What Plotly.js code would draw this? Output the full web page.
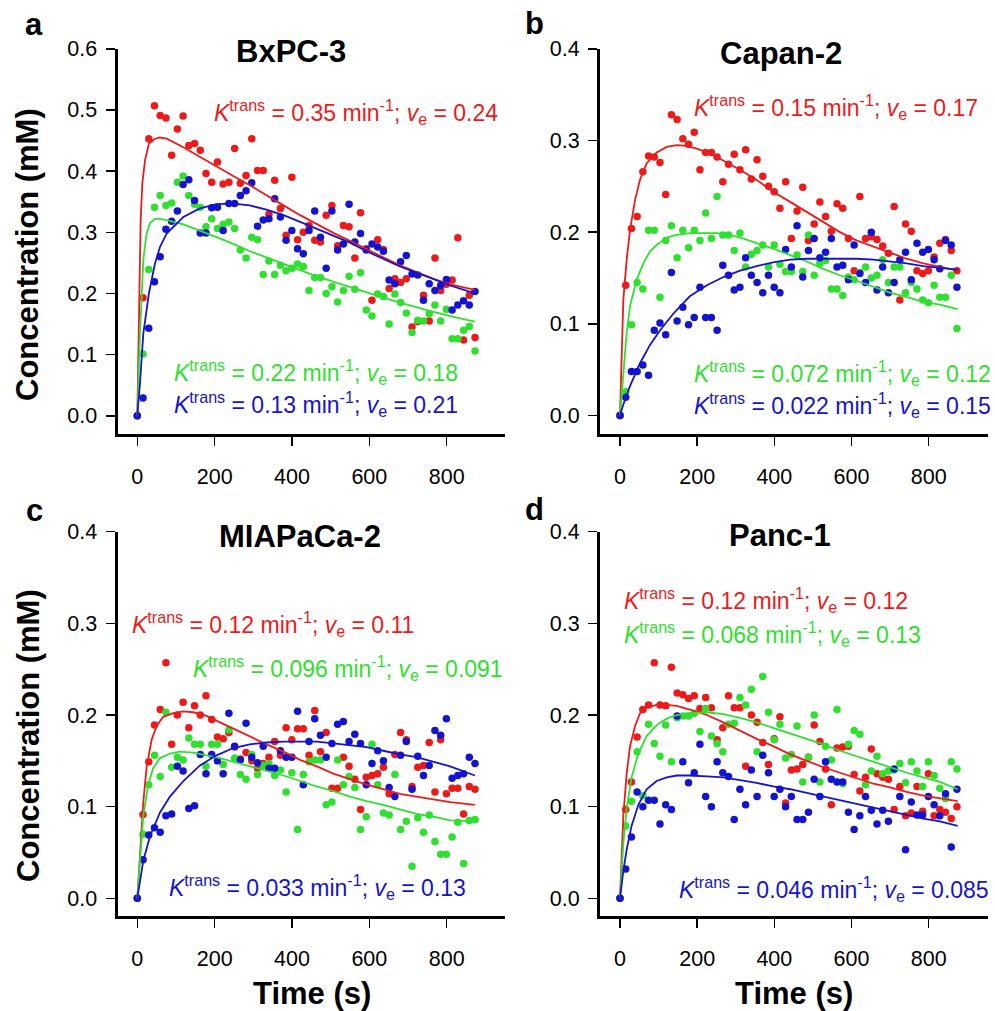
<!DOCTYPE html>
<html>
<head>
<meta charset="utf-8">
<script src="https://cdn.plot.ly/plotly-3.0.1.min.js"></script>
<style>html,body{margin:0;padding:0;background:#fff;}#chart{width:995px;height:1011px;}</style>
</head>
<body>
<div id="chart"></div>
<script>
// ---------- data ----------
const TIME = [0, 14.8, 29.6, 44.4, 59.2, 74, 88.8, 103.6, 118.4, 133.2, 148, 162.8, 177.6, 192.4, 207.2, 222, 236.8, 251.6, 266.4, 281.2, 296, 310.8, 325.6, 340.4, 355.2, 370, 384.8, 399.6, 414.4, 429.2, 444, 458.8, 473.6, 488.4, 503.2, 518, 532.8, 547.6, 562.4, 577.2, 592, 606.8, 621.6, 636.4, 651.2, 666, 680.8, 695.6, 710.4, 725.2, 740, 754.8, 769.6, 784.4, 799.2, 814, 828.8, 843.6, 858.4, 873.2];

const PANEL_LETTERS = ["a", "b", "c", "d"];
const CELL_LINES = ["BxPC-3", "Capan-2", "MIAPaCa-2", "Panc-1"];
const KTRANS = {a: ["0.35", "0.22", "0.13"], b: ["0.15", "0.072", "0.022"], c: ["0.12", "0.096", "0.033"], d: ["0.12", "0.068", "0.046"]}; // red, green, blue
const VE = {a: ["0.24", "0.18", "0.21"], b: ["0.17", "0.12", "0.15"], c: ["0.11", "0.091", "0.13"], d: ["0.12", "0.13", "0.085"]};
const X_TICKS = [0, 200, 400, 600, 800];
const Y_TICKS_A = [0, 0.1, 0.2, 0.3, 0.4, 0.5, 0.6];
const Y_TICKS_BCD = [0, 0.1, 0.2, 0.3, 0.4];

// Panel a: BxPC-3
const A_RED = [0, 0.193, 0.453, 0.507, 0.491, 0.487, 0.426, 0.469, 0.490, 0.442, 0.445, 0.434, 0.396, 0.382, 0.415, 0.379, 0.382, 0.437, 0.380, 0.393, 0.453, 0.401, 0.401, 0.330, 0.385, 0.339, 0.295, 0.390, 0.288, 0.300, 0.311, 0.287, 0.284, 0.328, 0.344, 0.278, 0.311, 0.309, 0.258, 0.332, 0.273, 0.189, 0.288, 0.272, 0.208, 0.224, 0.218, 0.224, 0.145, 0.154, 0.197, 0.155, 0.258, 0.205, 0.215, 0.222, 0.291, 0.124, 0.197, 0.128];
const A_GREEN = [0, 0.101, 0.239, 0.341, 0.360, 0.344, 0.348, 0.382, 0.392, 0.360, 0.346, 0.341, 0.309, 0.322, 0.306, 0.313, 0.317, 0.306, 0.271, 0.258, 0.292, 0.288, 0.231, 0.253, 0.231, 0.246, 0.237, 0.241, 0.248, 0.244, 0.205, 0.226, 0.226, 0.200, 0.211, 0.186, 0.205, 0.228, 0.207, 0.234, 0.173, 0.163, 0.199, 0.195, 0.150, 0.199, 0.185, 0.168, 0.136, 0.156, 0.155, 0.167, 0.181, 0.155, 0.174, 0.126, 0.126, 0.140, 0.146, 0.106];
const A_BLUE = [0, 0.029, 0.143, 0.219, 0.260, 0.305, 0.318, 0.335, 0.378, 0.386, 0.352, 0.299, 0.299, 0.340, 0.341, 0.303, 0.347, 0.347, 0.360, 0.368, 0.381, 0.310, 0.320, 0.322, 0.355, 0.325, 0.287, 0.303, 0.273, 0.265, 0.303, 0.335, 0.292, 0.241, 0.335, 0.271, 0.281, 0.346, 0.284, 0.298, 0.271, 0.281, 0.276, 0.269, 0.222, 0.216, 0.252, 0.262, 0.232, 0.230, 0.189, 0.216, 0.205, 0.213, 0.223, 0.173, 0.181, 0.188, 0.181, 0.203];
const A_FIT_RED_T = [0, 4.3, 8.6, 13, 20, 30, 45.7, 58.6, 76, 119, 162, 205, 248, 291, 334, 378, 421, 464, 507, 550, 593, 636, 679, 722, 766, 809, 873];
const A_FIT_RED = [0, 0.20, 0.32, 0.38, 0.418, 0.445, 0.453, 0.455, 0.453, 0.439, 0.423, 0.407, 0.392, 0.377, 0.360, 0.344, 0.328, 0.313, 0.299, 0.286, 0.272, 0.259, 0.246, 0.235, 0.224, 0.215, 0.206];
const A_FIT_GREEN_T = [0, 6.9, 15.5, 24, 33, 45.7, 58.6, 76, 119, 162, 205, 248, 291, 334, 378, 421, 464, 507, 550, 593, 636, 679, 722, 766, 809, 873];
const A_FIT_GREEN = [0, 0.134, 0.254, 0.298, 0.315, 0.322, 0.322, 0.320, 0.313, 0.303, 0.292, 0.281, 0.269, 0.259, 0.249, 0.238, 0.228, 0.219, 0.210, 0.201, 0.193, 0.185, 0.177, 0.170, 0.163, 0.154];
const A_FIT_BLUE_T = [0, 6.9, 15.5, 30, 45.7, 58.6, 76, 119, 162, 205, 248, 291, 334, 378, 421, 464, 507, 550, 593, 636, 679, 722, 766, 809, 873];
const A_FIT_BLUE = [0, 0.053, 0.134, 0.200, 0.249, 0.276, 0.298, 0.325, 0.339, 0.346, 0.347, 0.344, 0.337, 0.328, 0.317, 0.306, 0.295, 0.283, 0.269, 0.257, 0.244, 0.234, 0.223, 0.213, 0.200];

// Panel b: Capan-2
const B_RED = [0, 0.142, 0.204, 0.217, 0.266, 0.283, 0.282, 0.276, 0.241, 0.328, 0.323, 0.302, 0.296, 0.309, 0.268, 0.287, 0.287, 0.282, 0.255, 0.274, 0.285, 0.268, 0.290, 0.258, 0.279, 0.261, 0.250, 0.244, 0.226, 0.255, 0.193, 0.223, 0.249, 0.191, 0.209, 0.233, 0.217, 0.201, 0.231, 0.226, 0.193, 0.158, 0.239, 0.193, 0.195, 0.192, 0.185, 0.177, 0.228, 0.126, 0.209, 0.201, 0.158, 0.155, 0.158, 0.173, 0.188, 0.192, 0.180, 0.158];
const B_GREEN = [0, 0.026, 0.099, 0.145, 0.138, 0.202, 0.202, 0.129, 0.191, 0.207, 0.172, 0.202, 0.183, 0.202, 0.191, 0.221, 0.193, 0.239, 0.197, 0.197, 0.180, 0.199, 0.162, 0.176, 0.180, 0.186, 0.162, 0.186, 0.165, 0.157, 0.157, 0.175, 0.157, 0.197, 0.153, 0.166, 0.169, 0.138, 0.138, 0.131, 0.151, 0.148, 0.156, 0.162, 0.150, 0.153, 0.170, 0.145, 0.162, 0.162, 0.134, 0.145, 0.138, 0.126, 0.123, 0.142, 0.129, 0.129, 0.153, 0.095];
const B_BLUE = [0, 0.020, 0.048, 0.048, 0.055, 0.044, 0.093, 0.101, 0.088, 0.156, 0.103, 0.118, 0.099, 0.107, 0.140, 0.107, 0.107, 0.093, 0.164, 0.153, 0.137, 0.140, 0.172, 0.153, 0.145, 0.134, 0.153, 0.140, 0.134, 0.181, 0.162, 0.207, 0.151, 0.180, 0.193, 0.172, 0.178, 0.193, 0.162, 0.164, 0.148, 0.186, 0.155, 0.145, 0.200, 0.137, 0.162, 0.134, 0.145, 0.170, 0.178, 0.148, 0.188, 0.178, 0.181, 0.170, 0.160, 0.191, 0.186, 0.140];
const B_FIT_RED_T = [0, 8.6, 17.3, 25.9, 38.9, 51.8, 69, 95, 121, 147, 173, 199, 233, 268, 311, 354, 397, 441, 484, 527, 570, 613, 657, 700, 743, 786, 829, 875];
const B_FIT_RED = [0, 0.126, 0.170, 0.202, 0.235, 0.257, 0.275, 0.287, 0.293, 0.295, 0.294, 0.291, 0.286, 0.278, 0.268, 0.257, 0.244, 0.233, 0.222, 0.211, 0.200, 0.191, 0.184, 0.178, 0.171, 0.166, 0.162, 0.158];
const B_FIT_GREEN_T = [0, 8.6, 17.3, 25.9, 43.2, 60.5, 77.8, 95, 121, 147, 181, 216, 251, 285, 320, 354, 397, 441, 484, 527, 570, 613, 657, 700, 743, 786, 829, 875];
const B_FIT_GREEN = [0, 0.046, 0.090, 0.119, 0.148, 0.166, 0.179, 0.186, 0.194, 0.197, 0.199, 0.199, 0.199, 0.197, 0.193, 0.188, 0.182, 0.175, 0.168, 0.160, 0.153, 0.147, 0.140, 0.134, 0.129, 0.124, 0.121, 0.116];
const B_FIT_BLUE_T = [0, 8.6, 25.9, 51.8, 77.8, 104, 138, 181, 225, 268, 311, 354, 397, 441, 484, 527, 570, 613, 657, 700, 743, 786, 829, 875];
const B_FIT_BLUE = [0, 0.012, 0.032, 0.057, 0.077, 0.093, 0.111, 0.130, 0.142, 0.151, 0.158, 0.163, 0.167, 0.170, 0.171, 0.171, 0.171, 0.171, 0.170, 0.168, 0.166, 0.163, 0.161, 0.159];

// Panel c: MIAPaCa-2
const C_RED = [0, 0.0915, 0.149, 0.189, 0.206, 0.257, 0.168, 0.200, 0.214, 0.186, 0.210, 0.200, 0.221, 0.195, 0.176, 0.174, 0.181, 0.165, 0.152, 0.159, 0.150, 0.142, 0.147, 0.154, 0.171, 0.156, 0.186, 0.173, 0.185, 0.185, 0.156, 0.205, 0.160, 0.181, 0.120, 0.120, 0.154, 0.144, 0.130, 0.097, 0.132, 0.134, 0.136, 0.143, 0.114, 0.157, 0.181, 0.173, 0.122, 0.143, 0.145, 0.170, 0.116, 0.173, 0.114, 0.120, 0.120, 0.092, 0.122, 0.119];
const C_GREEN = [0, 0.070, 0.124, 0.156, 0.133, 0.203, 0.143, 0.154, 0.151, 0.175, 0.168, 0.168, 0.144, 0.168, 0.168, 0.146, 0.184, 0.153, 0.135, 0.130, 0.157, 0.135, 0.145, 0.147, 0.134, 0.140, 0.116, 0.137, 0.075, 0.135, 0.149, 0.151, 0.151, 0.102, 0.105, 0.151, 0.124, 0.133, 0.121, 0.075, 0.089, 0.168, 0.124, 0.093, 0.091, 0.135, 0.075, 0.084, 0.035, 0.088, 0.072, 0.091, 0.062, 0.048, 0.048, 0.067, 0.083, 0.038, 0.085, 0.086];
const C_BLUE = [0, 0.042, 0.069, 0.077, 0.072, 0.090, 0.092, 0.144, 0.139, 0.098, 0.101, 0.157, 0.136, 0.157, 0.150, 0.136, 0.202, 0.166, 0.151, 0.191, 0.154, 0.148, 0.166, 0.142, 0.142, 0.161, 0.154, 0.154, 0.204, 0.124, 0.171, 0.196, 0.178, 0.154, 0.169, 0.190, 0.193, 0.171, 0.179, 0.169, 0.124, 0.147, 0.161, 0.150, 0.121, 0.111, 0.156, 0.171, 0.119, 0.155, 0.134, 0.145, 0.183, 0.178, 0.196, 0.131, 0.134, 0.136, 0.154, 0.147];
const C_FIT_RED_T = [0, 6.9, 15.5, 24, 37, 50, 67, 93, 119, 145, 179, 214, 248, 291, 334, 378, 421, 464, 507, 550, 593, 636, 679, 722, 766, 809, 873];
const C_FIT_RED = [0, 0.053, 0.105, 0.143, 0.173, 0.188, 0.198, 0.202, 0.204, 0.203, 0.199, 0.192, 0.185, 0.176, 0.168, 0.160, 0.151, 0.144, 0.136, 0.130, 0.124, 0.119, 0.114, 0.111, 0.108, 0.105, 0.102];
const C_FIT_GREEN_T = [0, 6.9, 15.5, 28, 41, 59, 84.5, 110, 145, 179, 214, 248, 291, 334, 378, 421, 464, 507, 550, 593, 636, 679, 722, 766, 809, 873];
const C_FIT_GREEN = [0, 0.045, 0.090, 0.124, 0.142, 0.153, 0.158, 0.160, 0.159, 0.156, 0.153, 0.149, 0.144, 0.139, 0.134, 0.128, 0.122, 0.117, 0.111, 0.106, 0.102, 0.097, 0.092, 0.089, 0.085, 0.084];
const C_FIT_BLUE_T = [0, 6.9, 15.5, 33, 59, 84.5, 119, 162, 205, 248, 291, 334, 378, 421, 464, 507, 550, 593, 636, 679, 722, 766, 809, 873];
const C_FIT_BLUE = [0, 0.019, 0.041, 0.068, 0.094, 0.111, 0.128, 0.145, 0.156, 0.164, 0.168, 0.170, 0.171, 0.171, 0.171, 0.169, 0.167, 0.165, 0.161, 0.157, 0.154, 0.149, 0.144, 0.134];

// Panel d: Panc-1
const D_RED = [0, 0.097, 0.127, 0.176, 0.206, 0.211, 0.257, 0.211, 0.210, 0.252, 0.224, 0.222, 0.218, 0.221, 0.207, 0.219, 0.208, 0.173, 0.186, 0.221, 0.208, 0.208, 0.144, 0.200, 0.192, 0.170, 0.146, 0.174, 0.198, 0.104, 0.140, 0.141, 0.146, 0.154, 0.189, 0.171, 0.141, 0.102, 0.164, 0.165, 0.166, 0.135, 0.117, 0.132, 0.163, 0.136, 0.132, 0.130, 0.097, 0.122, 0.090, 0.093, 0.122, 0.095, 0.136, 0.090, 0.097, 0.094, 0.087, 0.100];
const D_GREEN = [0, 0.079, 0.106, 0.160, 0.112, 0.190, 0.169, 0.155, 0.189, 0.149, 0.197, 0.199, 0.199, 0.202, 0.182, 0.207, 0.177, 0.169, 0.160, 0.190, 0.191, 0.219, 0.211, 0.228, 0.160, 0.242, 0.203, 0.173, 0.190, 0.153, 0.157, 0.188, 0.127, 0.154, 0.200, 0.127, 0.166, 0.151, 0.206, 0.125, 0.168, 0.183, 0.179, 0.124, 0.139, 0.155, 0.136, 0.139, 0.140, 0.147, 0.126, 0.149, 0.139, 0.122, 0.149, 0.134, 0.120, 0.109, 0.149, 0.141];
const D_BLUE = [0, 0.032, 0.067, 0.116, 0.100, 0.107, 0.107, 0.081, 0.102, 0.097, 0.199, 0.149, 0.126, 0.137, 0.168, 0.111, 0.100, 0.149, 0.137, 0.133, 0.086, 0.119, 0.102, 0.140, 0.111, 0.156, 0.137, 0.111, 0.119, 0.100, 0.111, 0.086, 0.086, 0.094, 0.130, 0.111, 0.149, 0.130, 0.127, 0.127, 0.094, 0.075, 0.090, 0.111, 0.096, 0.081, 0.096, 0.084, 0.141, 0.111, 0.053, 0.105, 0.091, 0.091, 0.111, 0.102, 0.090, 0.114, 0.056, 0.119];
const D_FIT_RED_T = [0, 8.6, 17.3, 26, 39, 52, 69, 95, 121, 147, 181, 225, 268, 311, 354, 397, 441, 484, 527, 570, 613, 657, 700, 743, 786, 829, 875];
const D_FIT_RED = [0, 0.090, 0.136, 0.166, 0.188, 0.202, 0.208, 0.211, 0.211, 0.210, 0.206, 0.200, 0.192, 0.183, 0.174, 0.166, 0.157, 0.150, 0.143, 0.137, 0.131, 0.125, 0.121, 0.116, 0.112, 0.109, 0.106];
const D_FIT_GREEN_T = [0, 8.6, 17.3, 30, 47.5, 69, 95, 121, 147, 181, 225, 268, 311, 354, 397, 441, 484, 527, 570, 613, 657, 700, 743, 786, 829, 875];
const D_FIT_GREEN = [0, 0.060, 0.098, 0.132, 0.158, 0.177, 0.189, 0.196, 0.200, 0.202, 0.203, 0.201, 0.197, 0.192, 0.186, 0.180, 0.174, 0.168, 0.161, 0.155, 0.149, 0.143, 0.137, 0.132, 0.127, 0.119];
const D_FIT_BLUE_T = [0, 8.6, 17.3, 30, 47.5, 69, 95, 121, 147, 181, 225, 268, 311, 354, 397, 441, 484, 527, 570, 613, 657, 700, 743, 786, 829, 875];
const D_FIT_BLUE = [0, 0.030, 0.053, 0.079, 0.102, 0.119, 0.128, 0.132, 0.134, 0.134, 0.133, 0.132, 0.129, 0.126, 0.122, 0.119, 0.115, 0.111, 0.107, 0.103, 0.099, 0.095, 0.091, 0.087, 0.084, 0.079];

// ---------- styling ----------
const W = 995, H = 1011;
const RED = "#ee1a1a", GREEN = "#2fe02f", BLUE = "#1414d0";
const COLORS = [RED, GREEN, BLUE];
const FONT = "Arial, 'Liberation Sans', Helvetica, sans-serif";
const px = x => x / W;
const py = y => 1 - y / H;

const panels = [
  {key: "a", xa: "x",  ya: "y",  pts: [A_RED, A_GREEN, A_BLUE], fits: [[A_FIT_RED_T, A_FIT_RED], [A_FIT_GREEN_T, A_FIT_GREEN], [A_FIT_BLUE_T, A_FIT_BLUE]]},
  {key: "b", xa: "x2", ya: "y2", pts: [B_RED, B_GREEN, B_BLUE], fits: [[B_FIT_RED_T, B_FIT_RED], [B_FIT_GREEN_T, B_FIT_GREEN], [B_FIT_BLUE_T, B_FIT_BLUE]]},
  {key: "c", xa: "x3", ya: "y3", pts: [C_RED, C_GREEN, C_BLUE], fits: [[C_FIT_RED_T, C_FIT_RED], [C_FIT_GREEN_T, C_FIT_GREEN], [C_FIT_BLUE_T, C_FIT_BLUE]]},
  {key: "d", xa: "x4", ya: "y4", pts: [D_RED, D_GREEN, D_BLUE], fits: [[D_FIT_RED_T, D_FIT_RED], [D_FIT_GREEN_T, D_FIT_GREEN], [D_FIT_BLUE_T, D_FIT_BLUE]]}
];

const traces = [];
panels.forEach(p => {
  p.pts.forEach((vals, k) => {
    traces.push({type: "scatter", mode: "markers", x: TIME, y: vals, xaxis: p.xa, yaxis: p.ya,
      marker: {color: COLORS[k], size: 7.5, line: {width: 0}}, showlegend: false, hoverinfo: "skip", cliponaxis: false});
  });
  p.fits.forEach((f, k) => {
    traces.push({type: "scatter", mode: "lines", x: f[0], y: f[1], xaxis: p.xa, yaxis: p.ya,
      line: {color: COLORS[k], width: 1.8}, showlegend: false, hoverinfo: "skip"});
  });
});

function xAxis(domain, range, anchor) {
  return {domain: domain, range: range, anchor: anchor, showline: true, linewidth: 3, linecolor: "#000",
    ticks: "outside", ticklen: 9, tickwidth: 1.5, tickcolor: "#000", tickvals: X_TICKS,
    showgrid: false, zeroline: false, tickfont: {family: FONT, size: 21.5, color: "#000"}, ticklabelstandoff: 12, fixedrange: true};
}
function yAxis(domain, range, anchor, vals) {
  return {domain: domain, range: range, anchor: anchor, showline: true, linewidth: 3, linecolor: "#000",
    ticks: "outside", ticklen: 9, tickwidth: 1.5, tickcolor: "#000", tickvals: vals, tickformat: ".1f",
    showgrid: false, zeroline: false, tickfont: {family: FONT, size: 21.5, color: "#000"}, ticklabelstandoff: 4, fixedrange: true};
}

const XL = [px(117.5), px(505)], XR = [px(600), px(988)];
const YT = [py(434), py(48.8)], YB = [py(916), py(531.7)];

const annotations = [];
function txt(text, x, y, size, opts) {
  annotations.push(Object.assign({xref: "paper", yref: "paper", x: px(x), y: py(y), text: text, showarrow: false,
    xanchor: "center", yanchor: "middle", font: {family: FONT, size: size, color: "#000"}}, opts || {}));
}
const letterPos = [[34, 24], [534, 23], [34, 510], [534.5, 509]];
const titlePos = [[290.5, 52], [781, 54], [300, 536], [780, 535.6]];
PANEL_LETTERS.forEach((l, i) => {
  txt("<b>" + l + "</b>", letterPos[i][0], letterPos[i][1], 31);
  txt("<b>" + CELL_LINES[i] + "</b>", titlePos[i][0], titlePos[i][1], 31);
});
txt("<b>Concentration (mM)</b>", 28, 255, 31, {textangle: -90});
txt("<b>Concentration (mM)</b>", 28, 736, 31, {textangle: -90});
txt("<b>Time (s)</b>", 311.5, 993, 31);
txt("<b>Time (s)</b>", 794, 993, 31);

// model parameter labels: [left x, box-middle y] in pixels
const statPos = {
  a: [[211.7, 112], [171.7, 372], [171.7, 403.5]],
  b: [[691.7, 107], [691.7, 373.5], [691.7, 404.5]],
  c: [[130, 623.5], [190.7, 668], [166.7, 887]],
  d: [[621.7, 600], [621.7, 633.7], [677.3, 889]]
};
Object.keys(statPos).forEach(key => {
  statPos[key].forEach((pos, k) => {
    const t = "<i>K</i><sup>trans</sup> = " + KTRANS[key][k] + " min<sup>-1</sup>; <i>v</i><sub>e</sub> = " + VE[key][k];
    annotations.push({xref: "paper", yref: "paper", x: px(pos[0]), y: py(pos[1]), text: t, showarrow: false,
      xanchor: "left", yanchor: "middle", font: {family: FONT, size: 23, color: COLORS[k]}});
  });
});

const layout = {
  width: W, height: H, margin: {l: 0, r: 0, t: 0, b: 0}, paper_bgcolor: "#fff", plot_bgcolor: "#fff",
  showlegend: false,
  xaxis: xAxis(XL, [-51.2, 950.8], "y"),
  yaxis: yAxis(YT, [-0.0298, 0.6], "x", Y_TICKS_A),
  xaxis2: xAxis(XR, [-51.8, 953.7], "y2"),
  yaxis2: yAxis(YT, [-0.0202, 0.4], "x2", Y_TICKS_BCD),
  xaxis3: xAxis(XL, [-51.2, 950.8], "y3"),
  yaxis3: yAxis(YB, [-0.0193, 0.4], "x3", Y_TICKS_BCD),
  xaxis4: xAxis(XR, [-51.8, 953.7], "y4"),
  yaxis4: yAxis(YB, [-0.0193, 0.4], "x4", Y_TICKS_BCD),
  annotations: annotations
};

Plotly.newPlot("chart", traces, layout, {staticPlot: true, displayModeBar: false});
</script>
</body>
</html>
